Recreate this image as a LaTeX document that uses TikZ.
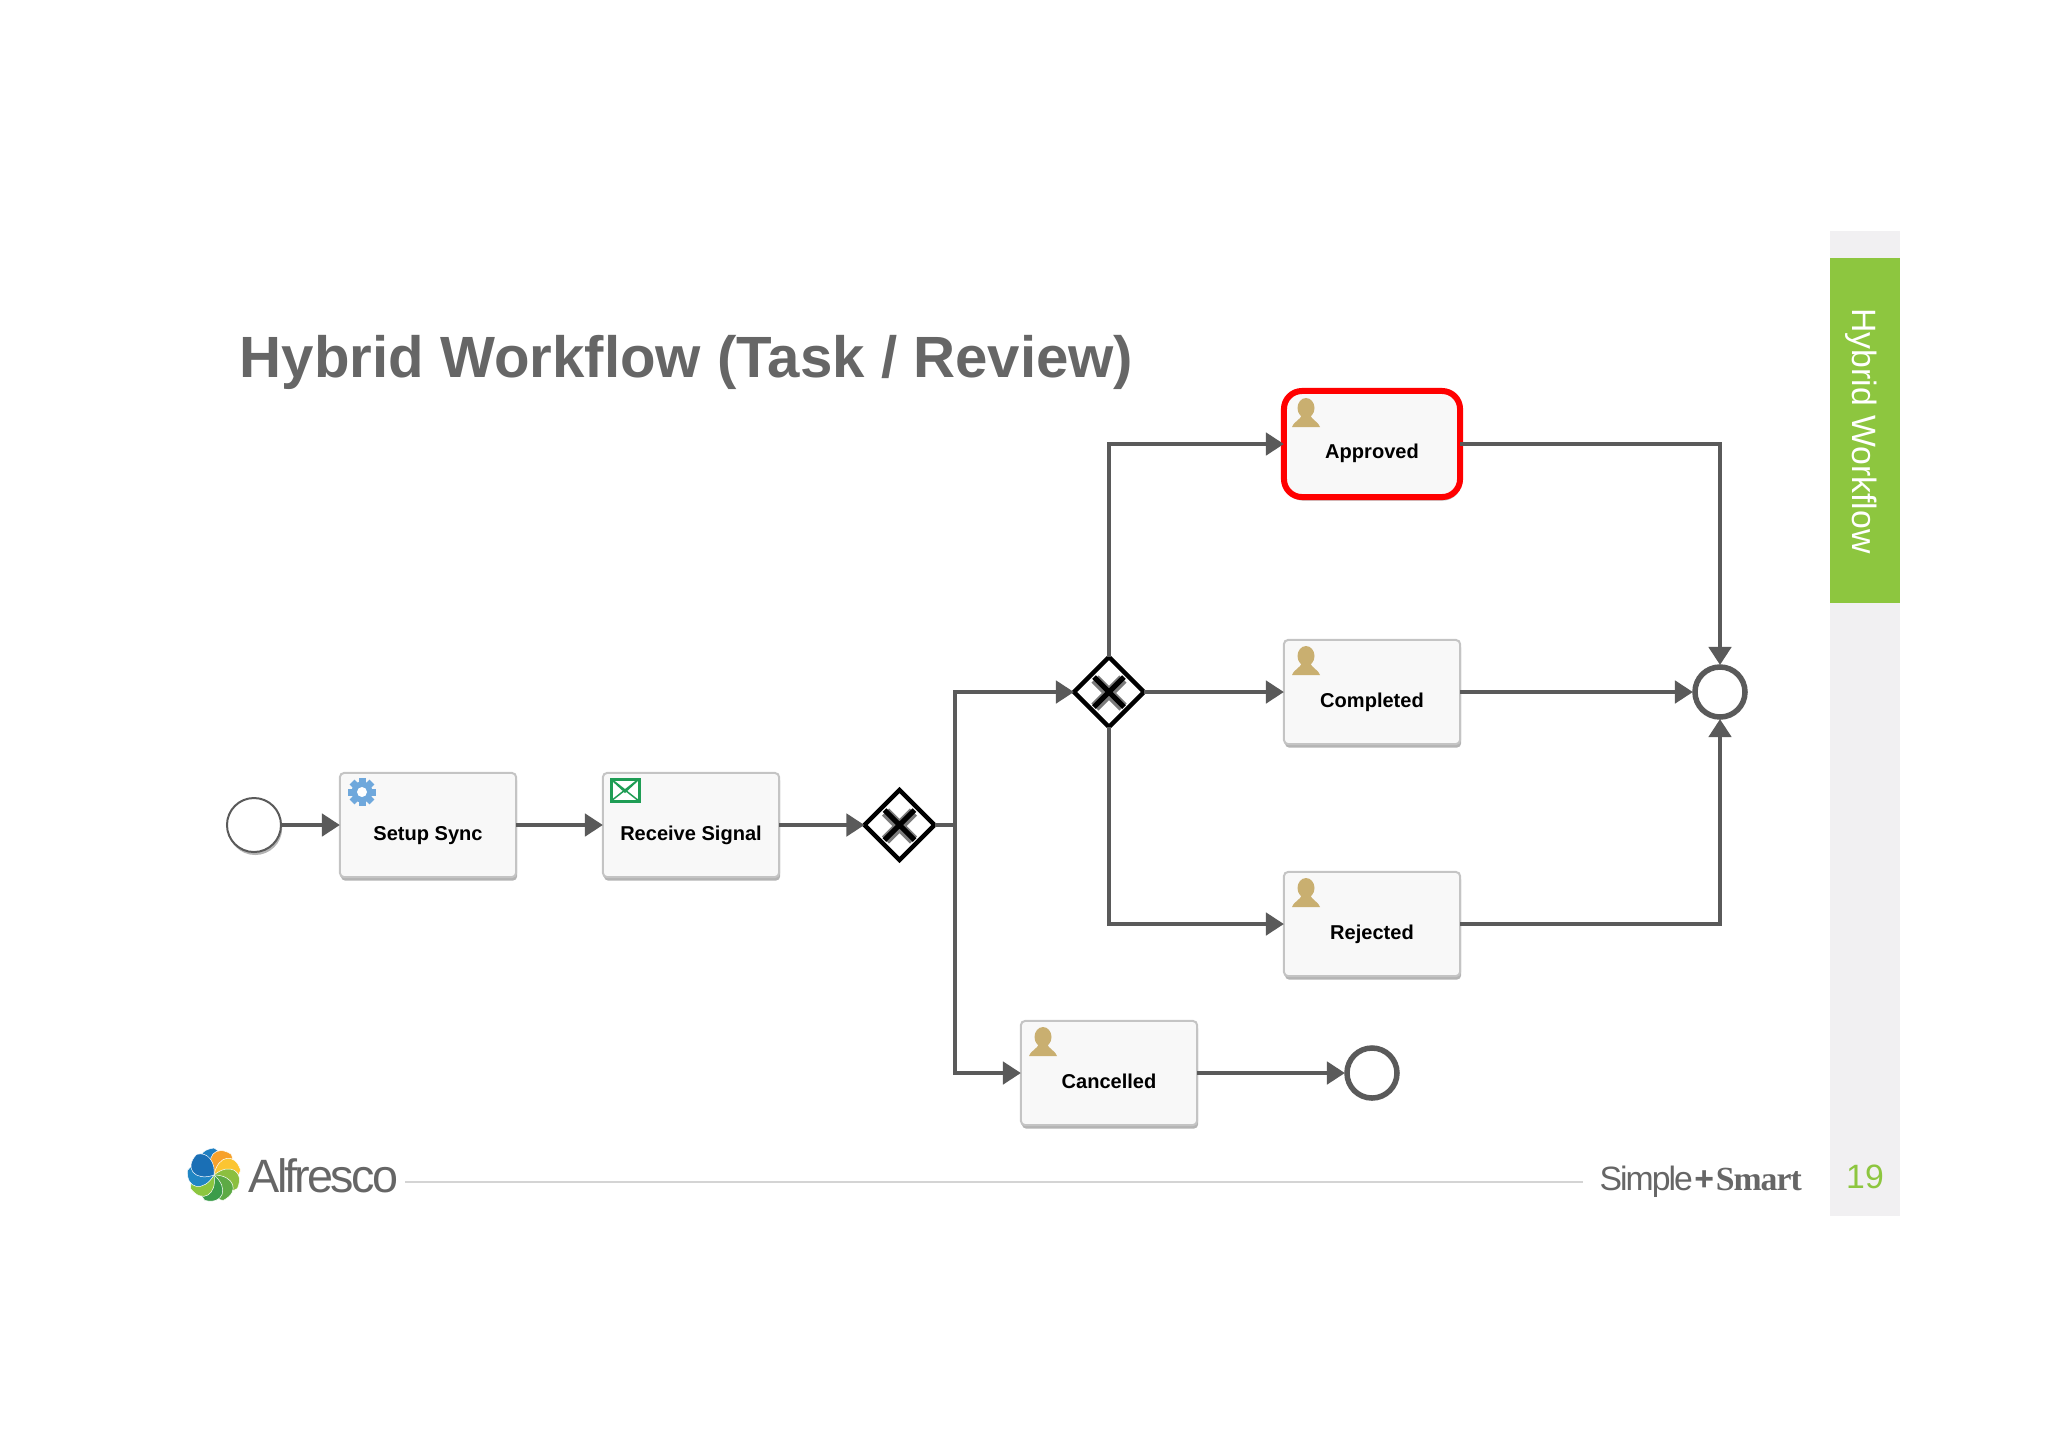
\documentclass[tikz,border=0pt]{standalone}
\usepackage{fontspec}
\setmainfont{Liberation Sans}
\newfontfamily\logofont[LetterSpace=-6]{Liberation Sans}
\newfontfamily\smartfont[LetterSpace=-3]{Liberation Serif}
\usetikzlibrary{arrows.meta,shapes.geometric,shadows}
\definecolor{flowgray}{HTML}{5A5A5A}
\definecolor{titlegray}{HTML}{666666}
\definecolor{boxline}{HTML}{C4C4C4}
\definecolor{boxfill}{HTML}{F8F8F8}
\definecolor{boxshadow}{HTML}{B4B4B4}
\definecolor{footline}{HTML}{D4D4D4}
\definecolor{personbrown}{HTML}{C9AF70}
\definecolor{gearblue}{HTML}{6FA8DC}
\definecolor{mailgreen}{HTML}{1F9D55}
\definecolor{sidegray}{HTML}{F1F0F2}
\definecolor{sidegreen}{HTML}{8DC63F}
\begin{document}
\begin{tikzpicture}[x=0.01cm,y=-0.01cm,
  taskbox/.style={draw=boxline,fill=boxfill,line width=0.02cm,rounded corners=0.04cm,
    minimum width=1.76cm,inner sep=0pt,outer sep=0pt,text height=0.67cm,text depth=0.37cm,
    font=\fontsize{5.7pt}{6pt}\selectfont\bfseries,
    general shadow={fill=boxshadow,rounded corners=0.04cm,shadow xshift=0.01cm,shadow yshift=-0.035cm}},
  picked/.style={draw=red,line width=0.06cm,rounded corners=0.18cm,text depth=0.39cm},
  gate/.style={diamond,draw=black,fill=white,line width=0.045cm,minimum width=0.7cm,minimum height=0.7cm,inner sep=0pt,outer sep=0pt},
  gatemark/.style={line width=0.05cm,draw=black},
  gatesoft/.style={line width=0.1cm,draw=flowgray!80},
  startevent/.style={circle,draw=flowgray,fill=white,line width=0.02cm,minimum size=0.54cm,inner sep=0pt,outer sep=0pt,
    general shadow={fill=boxshadow,shadow yshift=-0.03cm,shadow xshift=0.012cm}},
  endevent/.style={circle,draw=flowgray,fill=white,line width=0.055cm,minimum size=0.5cm,inner sep=0pt,outer sep=0.02cm},
  flow/.style={draw=flowgray,line width=0.047cm,-{Triangle[length=0.18cm,width=0.22cm]}},
  flowplain/.style={draw=flowgray,line width=0.047cm}]
\useasboundingbox (0,0) rectangle (2048,1447);

% sidebar
\fill [sidegray] (1830,231) rectangle (1900,1216);
\fill [sidegreen] (1830,258) rectangle (1900,603);
\node [rotate=-90,text=white,font=\fontsize{9.6pt}{10pt}\selectfont] (sidetitle) at (1861,431) {Hybrid Workflow};
\node [text=sidegreen,font=\fontsize{9.6pt}{10pt}\selectfont] (pagenum) at (1865,1177) {19};

% title
\node [anchor=base west,inner sep=0pt,text=titlegray,font=\fontsize{16.55pt}{18pt}\selectfont\bfseries] (title) at (239,377) {Hybrid Workflow (Task / Review)};

% footer
\draw [footline,line width=0.015cm] (405,1182) -- (1583,1182);
\node [anchor=base west,inner sep=0pt,text=titlegray,font=\fontsize{13.3pt}{14pt}\logofont] (alfresco) at (248,1192) {Alfresco};
\node [anchor=base west,inner sep=0pt,text=titlegray,font=\fontsize{9.6pt}{11pt}\logofont] (simple) at (1599,1190) {Simple\kern0.05em{\bfseries+}\kern0.05em{\smartfont\bfseries Smart}};
\foreach \a/\c in {0/1F7FC1,-40/F7A12B,-80/FBC531,-120/8CBF3F,-160/5DAA45,-200/3B9C4A,-240/8CC63F,-280/2186C4,-320/1A6FB5} {
  \definecolor{petal}{HTML}{\c}
  \draw [fill=petal,draw=white,line width=0.005cm,shift={(214,1175)},rotate=\a]
    (0,0) .. controls (-19,-7) and (-19,-25) .. (0,-27) .. controls (11,-22) and (9,-8) .. (0,0);
}

% events
\node [startevent] (start) at (254,825) {};
\node [endevent] (endmain) at (1720,692) {};
\node [endevent] (endcancel) at (1372,1073) {};

% tasks
\node [taskbox] (setup) at (428,825) {Setup Sync};
\node [taskbox] (receive) at (691,825) {Receive Signal};
\node [taskbox,picked] (approved) at (1372,444) {Approved};
\node [taskbox] (completed) at (1372,692) {Completed};
\node [taskbox] (rejected) at (1372,924) {Rejected};
\node [taskbox] (cancelled) at (1109,1073) {Cancelled};

% gateways
\node [gate] (gateone) at (899.5,825) {};
\node [gate] (gatetwo) at (1109,692) {};
\foreach \g in {gateone,gatetwo} {
  \draw [gatesoft,shift={(\g.center)}] (-14,-13) -- (14,15) (-14,15) -- (14,-13);
  \draw [gatemark,shift={(\g.center)}] (-15,-15) -- (15,15) (-15,15) -- (15,-15);
}

% icons
\foreach \t in {approved,completed,rejected,cancelled} {
  \begin{scope}[shift={(\t.center)},shift={(-66,-30)}]
    \fill [personbrown] (0,-6) ellipse [x radius=8.5,y radius=10];
    \fill [personbrown] (-14,13) .. controls (-11,6) and (-6,7) .. (-4,0) -- (4,0) .. controls (6,7) and (11,6) .. (14,13) -- cycle;
  \end{scope}
}
\begin{scope}[shift={(setup.center)},shift={(-66,-33)}]
  \foreach \a in {0,45,...,315} {
    \fill [gearblue,rotate=\a] (-3.5,-14) rectangle (3.5,-7);
  }
  \fill [gearblue] (0,0) circle [radius=10.5];
  \fill [white] (0,0) circle [radius=5];
\end{scope}
\begin{scope}[shift={(receive.center)},shift={(-66,-35)}]
  \draw [mailgreen,fill=white,line width=0.03cm] (-14,-11) rectangle (14,11);
  \draw [mailgreen,line width=0.015cm] (-14,-11) -- (14,11) (14,-11) -- (-14,11) (-14,-11) -- (0,2) -- (14,-11);
\end{scope}

% flows
\coordinate (branch) at (955,825);
\draw [flow] (start) -- (setup);
\draw [flow] (setup) -- (receive);
\draw [flow] (receive) -- (gateone);
\draw [flowplain] (gateone) -- (branch);
\draw [flow] (branch) |- (gatetwo);
\draw [flow] (branch) |- (cancelled);
\draw [flow] (gatetwo) |- (approved);
\draw [flow] (gatetwo) -- (completed);
\draw [flow] (gatetwo) |- (rejected);
\draw [flow] (approved) -| (endmain);
\draw [flow] (completed) -- (endmain);
\draw [flow] (rejected) -| (endmain);
\draw [flow] (cancelled) -- (endcancel);

\end{tikzpicture}
\end{document}
